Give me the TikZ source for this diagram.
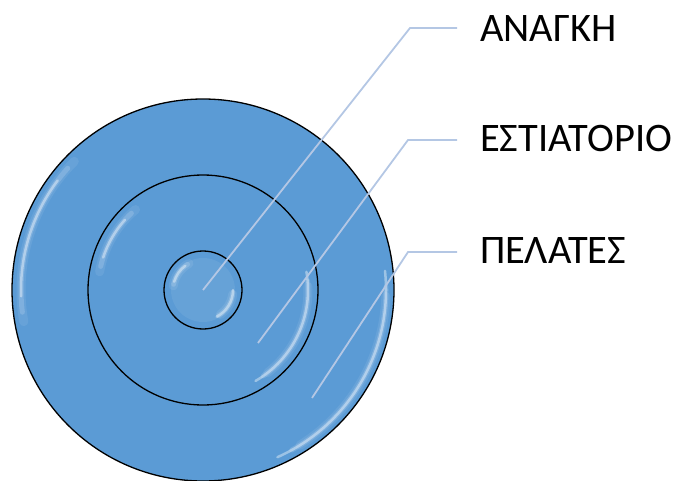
\documentclass[tikz,border=0pt]{standalone}
\usepackage{fontspec}
\setmainfont{Carlito}
\definecolor{ringblue}{RGB}{91,155,213}
\definecolor{leadcol}{RGB}{180,199,228}
\tikzset{
  ring/.style={draw=black, line width=1.3pt, fill=ringblue},
  leader/.style={draw=leadcol, line width=1.8pt},
  lbl/.style={anchor=base west, inner sep=0pt, font=\fontsize{40.5}{40.5}\selectfont, text=black},
  glow/.style={white, line cap=round}
}
\newcommand\glossarc[4]{% center, radius, start, end
  \draw[glow, line width=9pt, opacity=0.08] (#1) ++(#3:#2) arc[start angle=#3, end angle=#4, radius=#2];
  \draw[glow, line width=5pt, opacity=0.16] (#1) ++(#3+3:#2) arc[start angle=#3+3, end angle=#4-3, radius=#2];
  \draw[glow, line width=2.5pt, opacity=0.40] (#1) ++(#3+8:#2) arc[start angle=#3+8, end angle=#4-8, radius=#2];
}
\begin{document}
\begin{tikzpicture}[x=1pt,y=1pt]
\useasboundingbox (0,0) rectangle (677,480);
\coordinate (c) at (203,190);
\node[ring, circle, minimum size=382pt, inner sep=0pt] (outer) at (c) {};
\glossarc{c}{182}{135}{190}
\glossarc{c}{183}{-2}{-58}
\node[ring, circle, minimum size=230pt, inner sep=0pt] (middle) at (c) {};
\glossarc{c}{105}{130}{170}
\glossarc{c}{105}{2}{-52}
\node[ring, circle, minimum size=78pt, inner sep=0pt] (inner) at (c) {};
\fill[white, opacity=0.07] (c) circle[radius=32];
\glossarc{c}{30}{118}{172}
\glossarc{c}{30}{-8}{-55}
% leader points
\coordinate (p1) at (203,190);
\coordinate (b1) at (410,452);
\coordinate (e1) at (457,452);
\coordinate (p2) at (258,137);
\coordinate (b2) at (408,340);
\coordinate (e2) at (457,340);
\coordinate (p3) at (312,82);
\coordinate (b3) at (408,228);
\coordinate (e3) at (457,228);
\draw[leader] (p1) -- (b1) -- (e1);
\draw[leader] (p2) -- (b2) -- (e2);
\draw[leader] (p3) -- (b3) -- (e3);
\node[lbl] (t1) at (480,438) {ΑΝΑΓΚΗ};
\node[lbl] (t2) at (480,328) {ΕΣΤΙΑΤΟΡΙΟ};
\node[lbl] (t3) at (480,217) {ΠΕΛΑΤΕΣ};
\end{tikzpicture}
\end{document}
